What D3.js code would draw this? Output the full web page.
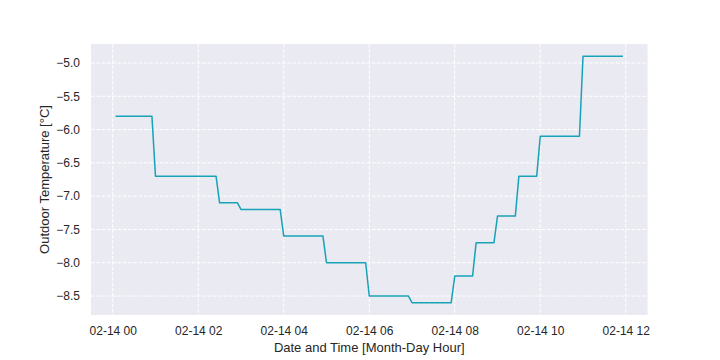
<!DOCTYPE html>
<html>
<head>
<meta charset="utf-8">
<script src="https://cdn.jsdelivr.net/npm/d3@7"></script>
<style>
  html, body { margin: 0; padding: 0; background: #ffffff; }
  svg { display: block; }
  text { font-family: "Liberation Sans", Arial, sans-serif; fill: #262626; }
</style>
</head>
<body>
<svg id="chart" width="720" height="360"></svg>
<script>
// Data (02-14, times of each level's first and last reading)
const date = "2024-02-14";
const times = ["00:05","00:55","01:00","02:25","02:30","02:55","03:00","03:55","04:00","04:55",
               "05:00","05:55","06:00","06:55","07:00","07:55","08:00","08:25","08:30","08:55",
               "09:00","09:25","09:30","09:55","10:00","10:55","11:00","11:55"];
const temps = [-5.8,-5.8,-6.7,-6.7,-7.1,-7.1,-7.2,-7.2,-7.6,-7.6,
               -8.0,-8.0,-8.5,-8.5,-8.6,-8.6,-8.2,-8.2,-7.7,-7.7,
               -7.3,-7.3,-6.7,-6.7,-6.1,-6.1,-4.9,-4.9];
const yTicks = [-8.5,-8.0,-7.5,-7.0,-6.5,-6.0,-5.5,-5.0];
const xTickHours = ["00:00","02:00","04:00","06:00","08:00","10:00","12:00"];
const xLabel = "Date and Time [Month-Day Hour]";
const yLabel = "Outdoor Temperature [°C]";

const parse = d3.utcParse("%Y-%m-%d %H:%M");
const data = times.map((t, i) => ({ t: parse(date + " " + t), v: temps[i] }));

const svg = d3.select("#chart");
const W = 720, H = 360;
const m = { left: 91, right: 72.5, top: 44, bottom: 45 };
const iw = W - m.left - m.right, ih = H - m.top - m.bottom;

const tExt = d3.extent(data, d => d.t);
const tPad = (tExt[1] - tExt[0]) * 0.05;
const x = d3.scaleUtc()
  .domain([new Date(+tExt[0] - tPad), new Date(+tExt[1] + tPad)])
  .range([m.left, m.left + iw]);
const vExt = d3.extent(data, d => d.v);
const vPad = (vExt[1] - vExt[0]) * 0.05;
const y = d3.scaleLinear()
  .domain([vExt[0] - vPad, vExt[1] + vPad])
  .range([m.top + ih, m.top]);

svg.append("rect")
  .attr("x", m.left).attr("y", m.top)
  .attr("width", iw).attr("height", ih)
  .attr("fill", "#EAEAF2");

const xTicks = xTickHours.map(h => parse(date + " " + h));

// Grid
svg.append("g").selectAll("line").data(yTicks).join("line")
  .attr("x1", m.left).attr("x2", m.left + iw)
  .attr("y1", d => y(d)).attr("y2", d => y(d))
  .attr("stroke", "#ffffff").attr("stroke-width", 1)
  .attr("stroke-dasharray", "3.7,1.6");
svg.append("g").selectAll("line").data(xTicks).join("line")
  .attr("y1", m.top).attr("y2", m.top + ih)
  .attr("x1", d => x(d)).attr("x2", d => x(d))
  .attr("stroke", "#ffffff").attr("stroke-width", 1)
  .attr("stroke-dasharray", "3.7,1.6");

// Axes (no spines, no tick marks)
const xAxis = d3.axisBottom(x).tickValues(xTicks)
  .tickFormat(d3.utcFormat("%m-%d %H")).tickSize(0).tickPadding(11);
const gx = svg.append("g").attr("transform", `translate(0,${m.top + ih})`).call(xAxis);
gx.select(".domain").remove();
gx.selectAll("text").attr("font-size", 12).attr("font-family", "Liberation Sans, Arial, sans-serif").attr("fill", "#262626");

const yAxis = d3.axisLeft(y).tickValues(yTicks)
  .tickFormat(d3.format(".1f")).tickSize(0).tickPadding(11);
const gy = svg.append("g").attr("transform", `translate(${m.left},0)`).call(yAxis);
gy.select(".domain").remove();
gy.selectAll("text").attr("font-size", 12).attr("font-family", "Liberation Sans, Arial, sans-serif").attr("fill", "#262626");

// Line
const line = d3.line().x(d => x(d.t)).y(d => y(d.v));
svg.append("path").datum(data)
  .attr("d", line)
  .attr("fill", "none")
  .attr("stroke", "#17a2b8")
  .attr("stroke-width", 1.5)
  .attr("stroke-linejoin", "round")
  .attr("stroke-linecap", "square");

// Labels
svg.append("text")
  .attr("x", m.left + iw / 2).attr("y", 351.5)
  .attr("text-anchor", "middle").attr("font-size", 13)
  .text(xLabel);
svg.append("text")
  .attr("transform", `translate(49,${m.top + ih / 2}) rotate(-90)`)
  .attr("text-anchor", "middle").attr("font-size", 13)
  .text(yLabel);
</script>
</body>
</html>
